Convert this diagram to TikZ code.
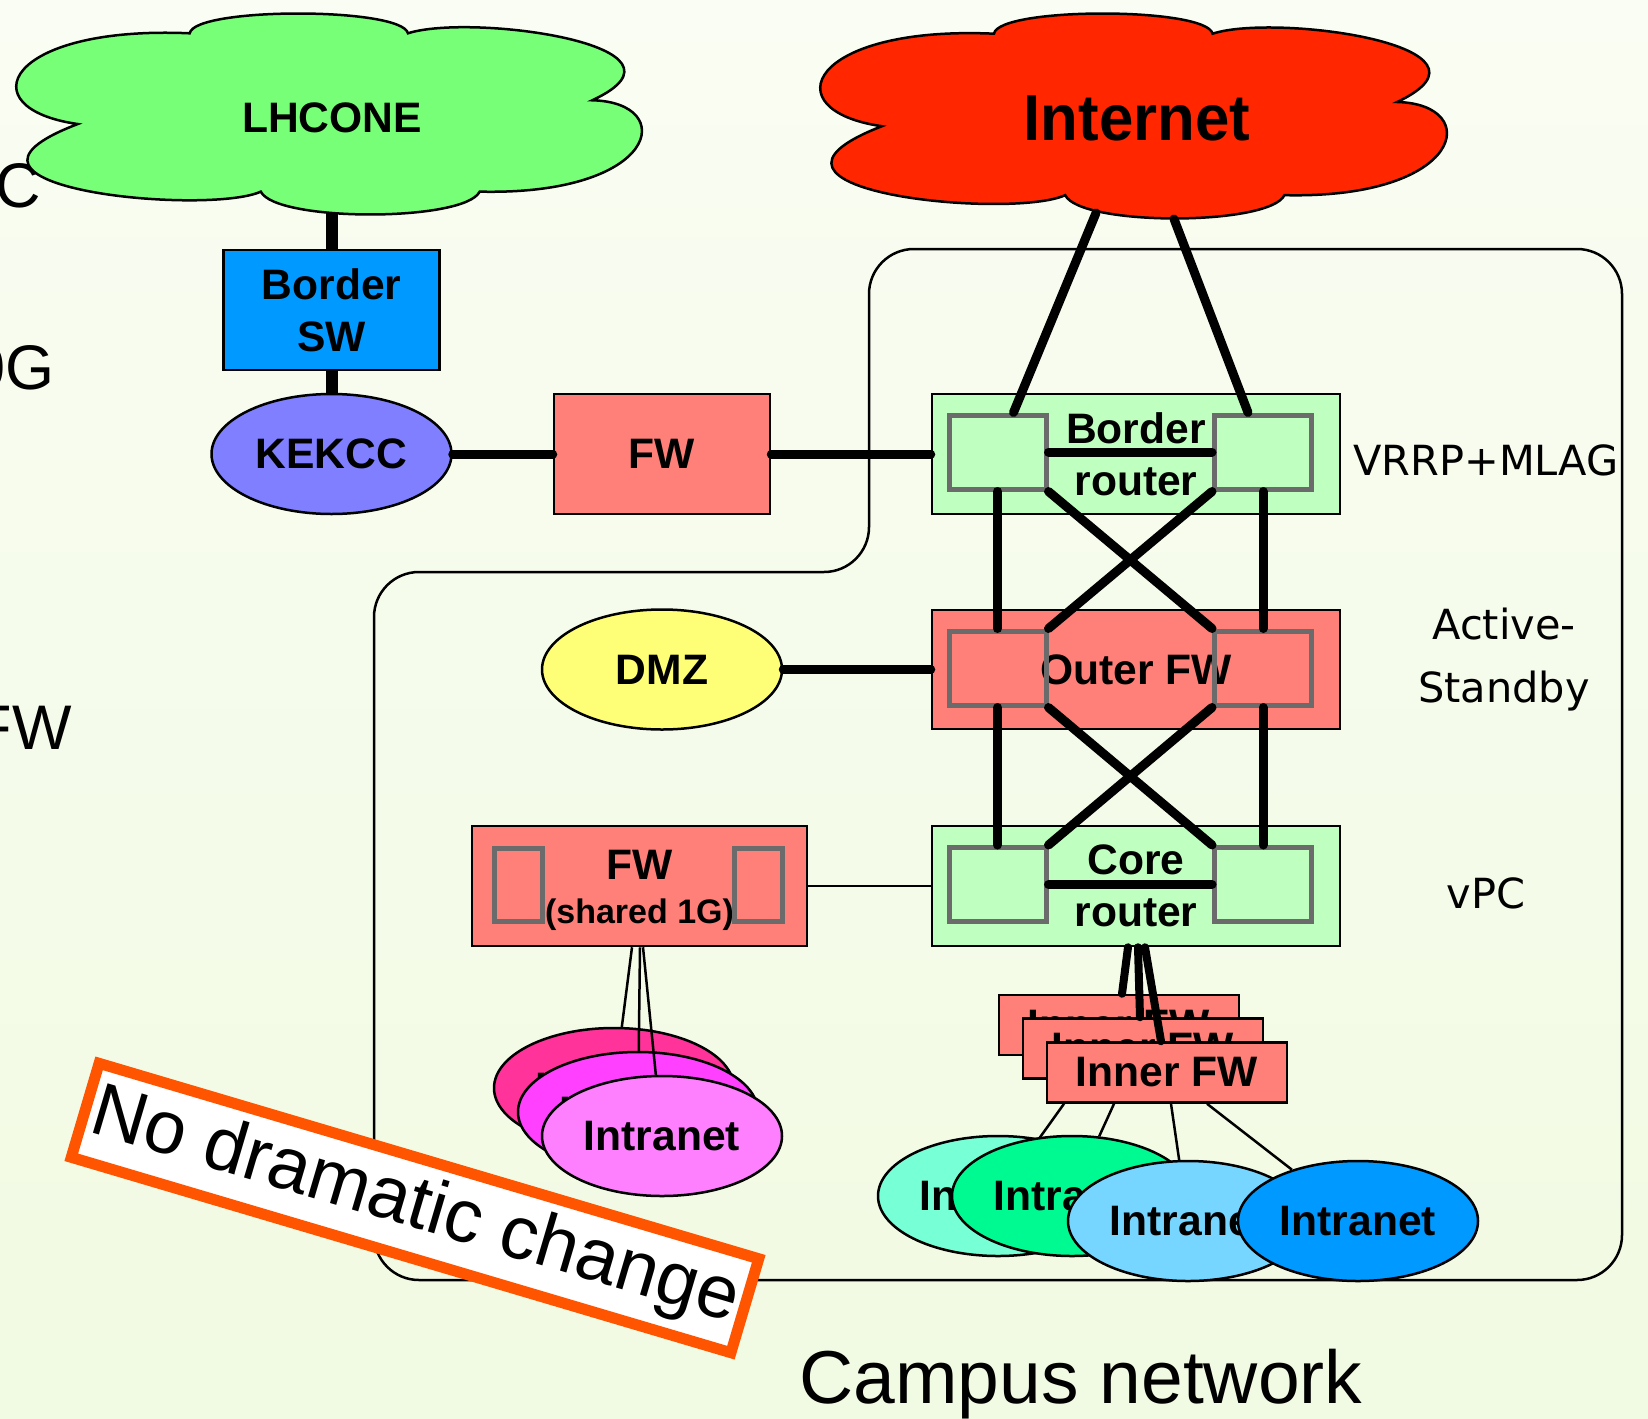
\documentclass[tikz,border=0pt]{standalone}
\usepackage{graphicx}
\usepackage{fontspec}
\setmainfont{Liberation Sans}
\newfontfamily\labfont{DejaVu Sans}
\usetikzlibrary{shapes.geometric,calc}
\definecolor{bgtop}{HTML}{FAFDF3}
\definecolor{bgbot}{HTML}{F1FAE2}
\definecolor{lhcgreen}{HTML}{77FF77}
\definecolor{inetred}{HTML}{FF2600}
\definecolor{swblue}{HTML}{0099FF}
\definecolor{kekblue}{HTML}{7F7FFF}
\definecolor{salmon}{HTML}{FF7F79}
\definecolor{rtgreen}{HTML}{BFFFBF}
\definecolor{dmzyel}{HTML}{FFFF77}
\definecolor{pinkA}{HTML}{FF3399}
\definecolor{pinkB}{HTML}{FF40FF}
\definecolor{pinkC}{HTML}{FF80FF}
\definecolor{intA}{HTML}{77FFD6}
\definecolor{intB}{HTML}{00FA92}
\definecolor{intC}{HTML}{77D6FF}
\definecolor{intD}{HTML}{0099FF}
\definecolor{portgray}{HTML}{6B6B6B}
\definecolor{warnorange}{HTML}{FF5500}
\newcommand{\boldlab}{\fontsize{42.6}{52}\selectfont\bfseries}
\newcommand{\sidelab}{\labfont\fontsize{41.5}{63}\selectfont}
\newcommand{\edgelab}{\fontsize{63}{70}\selectfont}
\tikzset{
  every node/.style={inner sep=0pt},
  nbox/.style={draw=black, line width=2.5, font=\boldlab, align=center, minimum height=120},
  port/.style={draw=portgray, line width=5, minimum width=97, minimum height=74},
  oval/.style={ellipse, draw=black, line width=2.5, minimum width=240, minimum height=120, font=\boldlab},
  fatlink/.style={line width=9, line cap=round},
  heavylink/.style={line width=12},
  thinlink/.style={line width=2.5},
  sidelabel/.style={font=\sidelab, align=center},
  edgelabel/.style={font=\edgelab, anchor=base east},
  cloudpath/.style={insert path={(0.273,0.10) .. controls (0.28,-0.03) and (0.61,-0.03) .. (0.62,0.10)
      .. controls (0.72,0.0) and (1.10,0.16) .. (0.913,0.43)
      .. controls (1.05,0.44) and (1.02,0.90) .. (0.734,0.88)
      .. controls (0.71,1.03) and (0.41,1.03) .. (0.386,0.88)
      .. controls (0.30,1.0) and (-0.17,0.86) .. (0.095,0.547)
      .. controls (-0.08,0.47) and (-0.02,0.06) .. (0.273,0.10) -- cycle}},
  cloudline/.style={draw=black, line width=2.5}
}
\begin{document}
\begin{tikzpicture}[x=1pt,y=-1pt]
\useasboundingbox (0,0) rectangle (1648,1418);
\shade[top color=bgtop,bottom color=bgbot] (0,0) rectangle (1648,1418);

% campus container
\draw[line width=2.5, rounded corners=45] (1000,1280) -- (374,1280) -- (374,572) -- (869,572) -- (869,249) -- (1622,249) -- (1622,1280) -- cycle;

% texts cut by the left edge
\node[edgelabel] (cutc) at (41,207) {C};
\node[edgelabel] (cutg) at (55,389) {0G};
\node[edgelabel] (cutfw) at (72,749) {FW};

% clouds
\begin{scope}[shift={(18,13)}, xscale=629, yscale=203]
  \path[cloudpath, cloudline, fill=lhcgreen];
\end{scope}
\begin{scope}[shift={(822,13)}, xscale=630, yscale=207]
  \path[cloudpath, cloudline, fill=inetred];
\end{scope}
\node[font=\boldlab] (lhc) at (332,118) {LHCONE};
\node[font=\fontsize{65}{70}\selectfont\bfseries] (inet) at (1137,118) {\scalebox{0.95}[1]{Internet}};
\coordinate (lhcbot) at (331.5,213);
\coordinate (inetL) at (1096,213);
\coordinate (inetR) at (1174,219);

% left side
\node[nbox, fill=swblue, minimum width=216] (bsw) at (331.5,310) {Border\\SW};
\node[oval, fill=kekblue] (kek) at (331.5,454) {KEKCC};
\node[nbox, fill=salmon, minimum width=216] (fw1) at (662,454) {FW};
\node[oval, fill=dmzyel] (dmz) at (662,669.5) {DMZ};

% router stack
\node[nbox, fill=rtgreen, minimum width=408] (br) at (1136,454) {Border\\router};
\node[port] (brL) at (997.5,452) {};
\node[port] (brR) at (1263,452) {};
\node[nbox, fill=salmon, minimum width=408, minimum height=119] (ofw) at (1136,669.5) {Outer FW};
\node[port] (ofL) at (997.5,668) {};
\node[port] (ofR) at (1263,668) {};
\node[nbox, fill=rtgreen, minimum width=408] (core) at (1136,886) {Core\\router};
\node[port] (coL) at (997.5,884.5) {};
\node[port] (coR) at (1263,884.5) {};

% shared FW
\node[nbox, fill=salmon, minimum width=335] (fw2) at (639.5,886) {};
\node[font=\boldlab, align=center] (fw2t) at (639.5,890) {FW\\[-8pt]{\fontsize{34}{40}\selectfont (shared 1G)}};
\node[port, minimum width=48, minimum height=73] (fwL) at (518,884.5) {};
\node[port, minimum width=48, minimum height=73] (fwR) at (758.3,884.5) {};

% pink intranets
\node[oval, fill=pinkA] (p1) at (614,1088) {Intranet};
\node[oval, fill=pinkB] (p2) at (638,1112) {Intranet};
\node[oval, fill=pinkC] (p3) at (662,1136) {Intranet};

% inner FWs
\node[nbox, fill=salmon, minimum width=240, minimum height=60] (ifw1) at (1119,1025) {Inner FW};
\node[nbox, fill=salmon, minimum width=240, minimum height=60] (ifw2) at (1143,1048.5) {Inner FW};
\node[nbox, fill=salmon, minimum width=240, minimum height=60] (ifw3) at (1167,1072.5) {Inner FW};

% intranet cluster
\node[oval, fill=intA] (e1) at (998,1196) {Intranet};
\node[oval, fill=intB] (e2) at (1072,1196) {Intranet};
\node[oval, fill=intC] (e3) at (1188,1221) {Intranet};
\node[oval, fill=intD] (e4) at (1358,1221) {Intranet};

% side labels
\node[sidelabel] (lblvrrp) at (1486,460) {VRRP+MLAG};
\node[sidelabel] (lblas) at (1504,660) {Active-\\Standby};
\node[sidelabel] (lblvpc) at (1486,893) {vPC};

% connectors
\draw[heavylink] (lhcbot) -- (bsw.north);
\draw[heavylink] (bsw.south) -- (kek.north);
\draw[fatlink] (kek.east) -- (fw1.west);
\draw[fatlink] (fw1.east) -- (br.west);
\draw[fatlink] (dmz.east) -- (ofw.west);
\draw[fatlink] (inetL) -- ($(brL.north)+(16,0)$);
\draw[fatlink] (inetR) -- ($(brR.north)+(-15,0)$);

\draw[fatlink] (brL.east) -- (brR.west);
\draw[fatlink] (brL.south) -- (ofL.north);
\draw[fatlink] (brR.south) -- (ofR.north);
\draw[fatlink] (brL.south east) -- (ofR.north west);
\draw[fatlink] (brR.south west) -- (ofL.north east);
\draw[fatlink] (ofL.south) -- (coL.north);
\draw[fatlink] (ofR.south) -- (coR.north);
\draw[fatlink] (ofL.south east) -- (coR.north west);
\draw[fatlink] (ofR.south west) -- (coL.north east);
\draw[fatlink] (coL.east) -- (coR.west);

\draw[thinlink] (fw2.east) -- (core.west);

\draw[fatlink, line width=8] ($(core.south)+(-8,0)$) -- ($(ifw1.north)+(3,0)$);
\draw[fatlink, line width=8] ($(core.south)+(2,0)$) -- ($(ifw2.north)+(-3,0)$);
\draw[fatlink, line width=8] ($(core.south)+(9,0)$) -- ($(ifw3.north)+(-6,0)$);

\draw[thinlink] ($(fw2.south)+(-7.5,0)$) -- (p1);
\draw[thinlink] ($(fw2.south)+(0.5,0)$) -- (p2);
\draw[thinlink] ($(fw2.south)+(3.5,0)$) -- (p3);

\draw[thinlink] ($(ifw3.south)+(-103,0)$) -- (e1);
\draw[thinlink] ($(ifw3.south)+(-53,0)$) -- (e2);
\draw[thinlink] ($(ifw3.south)+(4,0)$) -- (e3);
\draw[thinlink] ($(ifw3.south)+(40,0)$) -- (e4);

% bottom title
\node[font=\fontsize{75}{80}\selectfont, anchor=base] (campus) at (1081,1403) {Campus network};

% stamp
\node[draw=warnorange, line width=11, fill=white, rotate=-16.5, minimum width=688, minimum height=98, font=\fontsize{75}{80}\selectfont] (warn) at (415,1208) {No dramatic change};
\end{tikzpicture}
\end{document}
